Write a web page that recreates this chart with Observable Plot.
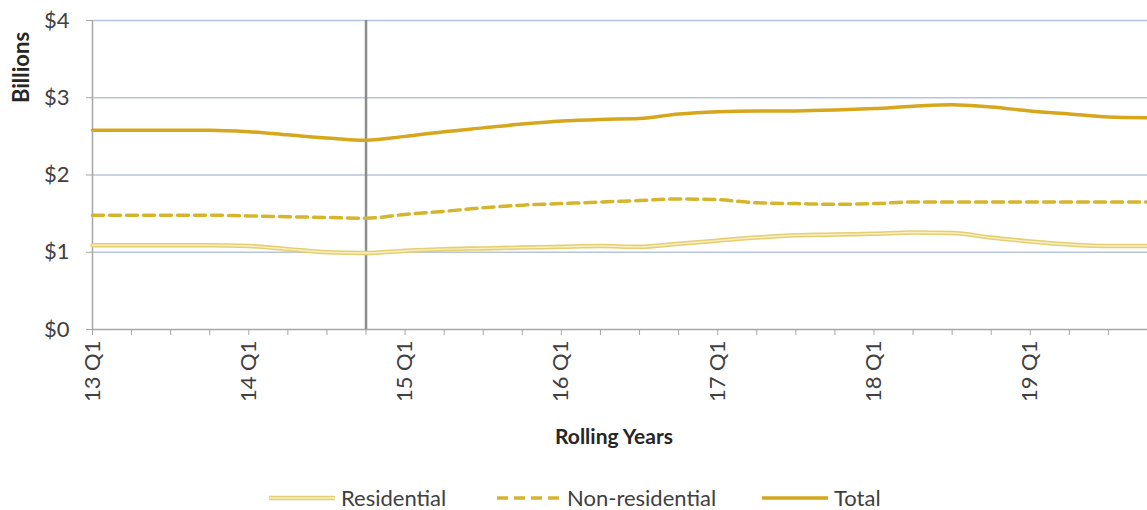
<!DOCTYPE html>
<html>
<head>
<meta charset="utf-8">
<script src="https://cdn.jsdelivr.net/npm/d3@7"></script>
<script src="https://cdn.jsdelivr.net/npm/@observablehq/plot@0.6"></script>
<style>
  html, body { margin: 0; padding: 0; background: #fff; }
  body { width: 1147px; height: 510px; overflow: hidden; font-family: Lato, "Open Sans", sans-serif; }
  #legend { position: relative; height: 40px; font-size: 22px; color: #404040; }
  #legend .item { position: absolute; top: 14px; display: flex; align-items: center; }
  #legend svg { margin-right: 6px; }
</style>
</head>
<body>
<div id="chart"></div>
<div id="legend"></div>
<script>
const quarters = [
  "13 Q1","13 Q2","13 Q3","13 Q4",
  "14 Q1","14 Q2","14 Q3","14 Q4",
  "15 Q1","15 Q2","15 Q3","15 Q4",
  "16 Q1","16 Q2","16 Q3","16 Q4",
  "17 Q1","17 Q2","17 Q3","17 Q4",
  "18 Q1","18 Q2","18 Q3","18 Q4",
  "19 Q1","19 Q2","19 Q3","19 Q4"
];
const residential = [1.09,1.09,1.09,1.09, 1.08,1.04,1.00,0.99, 1.02,1.04,1.05,1.06, 1.07,1.08,1.07,1.11, 1.15,1.19,1.22,1.23, 1.24,1.255,1.25,1.19, 1.14,1.10,1.08,1.08];
const nonResidential = [1.48,1.48,1.48,1.48, 1.47,1.46,1.45,1.44, 1.49,1.53,1.575,1.61, 1.63,1.65,1.67,1.69, 1.68,1.64,1.63,1.62, 1.63,1.65,1.65,1.65, 1.65,1.65,1.65,1.65];
const total = [2.58,2.58,2.58,2.58, 2.56,2.52,2.48,2.45, 2.50,2.56,2.61,2.66, 2.70,2.72,2.73,2.79, 2.82,2.83,2.83,2.84, 2.86,2.89,2.91,2.88, 2.83,2.79,2.75,2.74];
const yTicks = [0, 1, 2, 3, 4];
const markerQuarter = "14 Q4";
const seriesNames = ["Residential", "Non-residential", "Total"];
const colors = { res: "#e4cf73", resInner: "#f8efc4", non: "#d6b52e", total: "#d6a61c" };

const idx = d3.range(quarters.length);
const rows = (vals) => idx.map(i => ({ i, v: vals[i] }));
const markerIndex = quarters.indexOf(markerQuarter);

const plot = Plot.plot({
  width: 1147,
  height: 470,
  marginTop: 20,
  marginLeft: 92,
  marginRight: 0,
  marginBottom: 141,
  style: { fontFamily: "Lato, 'Open Sans', sans-serif", fontSize: "22px", color: "#404040", background: "#fff" },
  x: { domain: [0, quarters.length - 1] },
  y: { domain: [0, 4] },
  marks: [
    Plot.gridY(yTicks.filter(d => d > 0), { stroke: "#b7c4df", strokeOpacity: 1, strokeWidth: 1.5 }),
    Plot.ruleY([0], { stroke: "#a6a6a6", strokeWidth: 1.5 }),
    Plot.ruleX([0], { stroke: "#a6a6a6", strokeWidth: 1.5 }),
    Plot.ruleX([markerIndex], { y1: 0, y2: 4, stroke: "#8c8c8c", strokeWidth: 2.5 }),
    Plot.axisY({ ticks: yTicks, tickFormat: d => "$" + d, tickSize: 6, tickPadding: 17, stroke: "#a6a6a6", label: null }),
    Plot.axisX({ ticks: idx, tickFormat: i => quarters[i].endsWith("Q1") ? quarters[i] : "", tickSize: 6, tickPadding: 5, tickRotate: -90, stroke: "#a6a6a6", label: null }),
    Plot.line(rows(residential), { x: "i", y: "v", stroke: colors.res, strokeWidth: 4.5, curve: "monotone-x" }),
    Plot.line(rows(residential), { x: "i", y: "v", stroke: colors.resInner, strokeWidth: 1.4, curve: "monotone-x" }),
    Plot.line(rows(nonResidential), { x: "i", y: "v", stroke: colors.non, strokeWidth: 3.5, strokeDasharray: "11,6", curve: "monotone-x" }),
    Plot.line(rows(total), { x: "i", y: "v", stroke: colors.total, strokeWidth: 3.5, curve: "monotone-x" }),
    Plot.text(["Billions"], { frameAnchor: "top-left", dx: -71, dy: 47, rotate: -90, textAnchor: "middle", lineAnchor: "middle", fontWeight: "bold", fontSize: 22, fill: "#262626" }),
    Plot.text(["Rolling Years"], { frameAnchor: "bottom", dx: -6, dy: 108, textAnchor: "middle", lineAnchor: "middle", fontWeight: "bold", fontSize: 21, fill: "#262626" })
  ]
});
document.getElementById("chart").appendChild(plot);

// Legend
const legend = document.getElementById("legend");
const legendItems = [
  { name: seriesNames[0], left: 269, draw: s => {
      s.append("line").attr("x1", 0).attr("x2", 66).attr("y1", 10).attr("y2", 10).attr("stroke", colors.res).attr("stroke-width", 4.5);
      s.append("line").attr("x1", 0).attr("x2", 66).attr("y1", 10).attr("y2", 10).attr("stroke", colors.resInner).attr("stroke-width", 1.4);
  }},
  { name: seriesNames[1], left: 495, draw: s => {
      s.append("line").attr("x1", 2).attr("x2", 66).attr("y1", 10).attr("y2", 10).attr("stroke", colors.non).attr("stroke-width", 3.5).attr("stroke-dasharray", "11,6");
  }},
  { name: seriesNames[2], left: 762, draw: s => {
      s.append("line").attr("x1", 0).attr("x2", 66).attr("y1", 10).attr("y2", 10).attr("stroke", colors.total).attr("stroke-width", 3.5);
  }}
];
for (const it of legendItems) {
  const div = d3.select(legend).append("div").attr("class", "item").style("left", it.left + "px");
  const s = div.append("svg").attr("width", 66).attr("height", 20);
  it.draw(s);
  div.append("span").text(it.name);
}
</script>
</body>
</html>
